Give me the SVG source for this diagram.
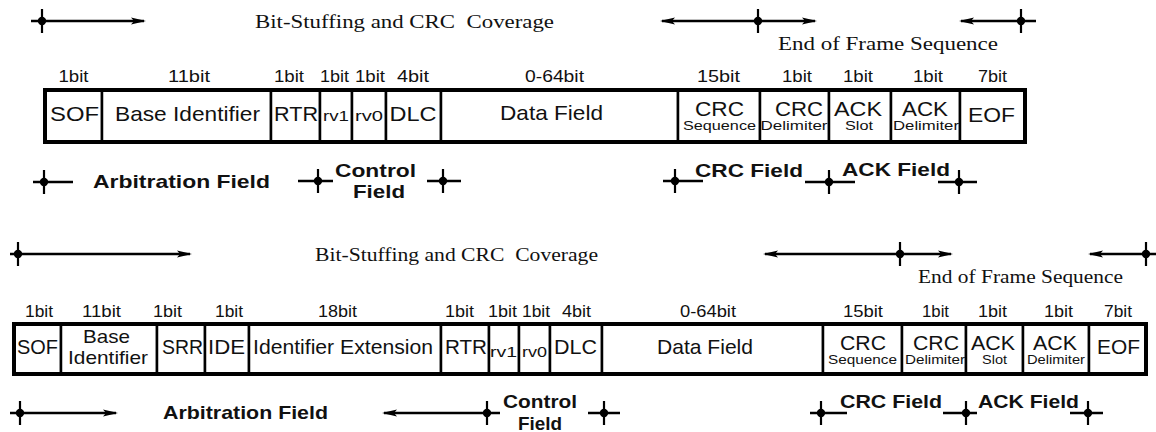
<svg xmlns="http://www.w3.org/2000/svg" xmlns:xlink="http://www.w3.org/1999/xlink" width="1156" height="432" viewBox="0 0 1156 432">
  <style>
    text { fill: #111; text-anchor: middle; font-family: "Liberation Sans", Arial, sans-serif; }
    .cell { font-size: 21px; }
    .two { font-size: 19px; }
    .small { font-size: 15px; }
    .sub { font-size: 12px; }
    .bit { font-size: 16px; }
    .cov { font-family: "Liberation Serif", "Times New Roman", serif; font-size: 19px; }
    .fld { font-weight: bold; font-size: 19px; }
    .box { fill: #fff; stroke: #000; stroke-width: 2.5; }
    .frame { fill: none; stroke: #000; stroke-width: 4; }
    .ln { stroke: #000; stroke-width: 2.5; fill: none; }
    .arr { marker-end: url(#ah); }
    .arl { marker-start: url(#ah); }
    .arb { marker-start: url(#ah); marker-end: url(#ah); }
  </style>
  <defs>
    <marker id="ah" viewBox="-14 -4 17 8" refX="0" refY="0" markerWidth="17" markerHeight="8" markerUnits="userSpaceOnUse" orient="auto-start-reverse">
      <path d="M2,0 L-13,-3.6 L-10,0 L-13,3.6 Z" fill="#000"/>
    </marker>
    <g id="tick">
      <line x1="0" y1="-12" x2="0" y2="12" stroke="#000" stroke-width="2.2"/>
      <circle r="4.2" fill="#000"/>
    </g>
  </defs>
  <rect width="1156" height="432" fill="#fff"/>

  <!-- ===== Standard frame (11-bit identifier) ===== -->
  <g id="std-sof"><rect class="box" x="45" y="90" width="57" height="52"/><text class="bit" x="73.5" y="82" textLength="30" lengthAdjust="spacingAndGlyphs">1bit</text><text class="cell" x="74.5" y="121" textLength="49" lengthAdjust="spacingAndGlyphs">SOF</text></g>
  <g id="std-base-id"><rect class="box" x="102" y="90" width="169" height="52"/><text class="bit" x="189" y="82" textLength="42" lengthAdjust="spacingAndGlyphs">11bit</text><text class="cell" x="187.5" y="121" textLength="145" lengthAdjust="spacingAndGlyphs">Base Identifier</text></g>
  <g id="std-rtr"><rect class="box" x="271" y="90" width="49" height="52"/><text class="bit" x="289" y="82" textLength="30" lengthAdjust="spacingAndGlyphs">1bit</text><text class="cell" x="296" y="121" textLength="44" lengthAdjust="spacingAndGlyphs">RTR</text></g>
  <g id="std-rv1"><rect class="box" x="320" y="90" width="32" height="52"/><text class="bit" x="334.5" y="82" textLength="29" lengthAdjust="spacingAndGlyphs">1bit</text><text class="small" x="336" y="121" textLength="26" lengthAdjust="spacingAndGlyphs">rv1</text></g>
  <g id="std-rv0"><rect class="box" x="352" y="90" width="34" height="52"/><text class="bit" x="370" y="82" textLength="30" lengthAdjust="spacingAndGlyphs">1bit</text><text class="small" x="369" y="121" textLength="28" lengthAdjust="spacingAndGlyphs">rv0</text></g>
  <g id="std-dlc"><rect class="box" x="386" y="90" width="55" height="52"/><text class="bit" x="413" y="82" textLength="32" lengthAdjust="spacingAndGlyphs">4bit</text><text class="cell" x="413" y="121" textLength="47" lengthAdjust="spacingAndGlyphs">DLC</text></g>
  <g id="std-data"><rect class="box" x="441" y="90" width="237" height="52"/><text class="bit" x="554.5" y="82" textLength="59" lengthAdjust="spacingAndGlyphs">0-64bit</text><text class="cell" x="551.5" y="120" textLength="103" lengthAdjust="spacingAndGlyphs">Data Field</text></g>
  <g id="std-crc-seq"><rect class="box" x="678" y="90" width="82" height="52"/><text class="bit" x="718.5" y="82" textLength="43" lengthAdjust="spacingAndGlyphs">15bit</text><text class="cell" x="719.5" y="116" textLength="49" lengthAdjust="spacingAndGlyphs">CRC</text><text class="sub" x="719.5" y="130" textLength="73" lengthAdjust="spacingAndGlyphs">Sequence</text></g>
  <g id="std-crc-del"><rect class="box" x="760" y="90" width="69" height="52"/><text class="bit" x="797" y="82" textLength="30" lengthAdjust="spacingAndGlyphs">1bit</text><text class="cell" x="799" y="116" textLength="48" lengthAdjust="spacingAndGlyphs">CRC</text><text class="sub" x="794" y="130" textLength="67" lengthAdjust="spacingAndGlyphs">Delimiter</text></g>
  <g id="std-ack-slot"><rect class="box" x="829" y="90" width="62" height="52"/><text class="bit" x="858" y="82" textLength="30" lengthAdjust="spacingAndGlyphs">1bit</text><text class="cell" x="858" y="116" textLength="48" lengthAdjust="spacingAndGlyphs">ACK</text><text class="sub" x="859" y="130" textLength="28" lengthAdjust="spacingAndGlyphs">Slot</text></g>
  <g id="std-ack-del"><rect class="box" x="891" y="90" width="69" height="52"/><text class="bit" x="928" y="82" textLength="30" lengthAdjust="spacingAndGlyphs">1bit</text><text class="cell" x="925" y="116" textLength="46" lengthAdjust="spacingAndGlyphs">ACK</text><text class="sub" x="926" y="130" textLength="66" lengthAdjust="spacingAndGlyphs">Delimiter</text></g>
  <g id="std-eof"><rect class="box" x="960" y="90" width="65" height="52"/><text class="bit" x="992.5" y="82" textLength="29" lengthAdjust="spacingAndGlyphs">7bit</text><text class="cell" x="991.5" y="122" textLength="47" lengthAdjust="spacingAndGlyphs">EOF</text></g>
  <rect class="frame" x="45" y="90" width="980" height="52"/>

  <g id="std-labels">
    <text class="cov" x="404.5" y="28" textLength="299" lengthAdjust="spacingAndGlyphs" xml:space="preserve">Bit-Stuffing and CRC  Coverage</text>
    <text class="cov" x="888" y="50" textLength="220" lengthAdjust="spacingAndGlyphs">End of Frame Sequence</text>
    <text class="fld" x="181.5" y="188" textLength="177" lengthAdjust="spacingAndGlyphs">Arbitration Field</text>
    <text class="fld" x="375.5" y="177" textLength="81" lengthAdjust="spacingAndGlyphs">Control</text>
    <text class="fld" x="379" y="198" textLength="52" lengthAdjust="spacingAndGlyphs">Field</text>
    <text class="fld" x="749" y="177" textLength="108" lengthAdjust="spacingAndGlyphs">CRC Field</text>
    <text class="fld" x="896" y="176" textLength="108" lengthAdjust="spacingAndGlyphs">ACK Field</text>
  </g>

  <!-- ===== Extended frame (29-bit identifier) ===== -->
  <g id="ext-sof"><rect class="box" x="14" y="324" width="47" height="50"/><text class="bit" x="39" y="317" textLength="28" lengthAdjust="spacingAndGlyphs">1bit</text><text class="cell" x="37.5" y="354" textLength="41" lengthAdjust="spacingAndGlyphs">SOF</text></g>
  <g id="ext-base-id"><rect class="box" x="61" y="324" width="96" height="50"/><text class="bit" x="101.5" y="317" textLength="39" lengthAdjust="spacingAndGlyphs">11bit</text><text class="two" x="106.5" y="343" textLength="47" lengthAdjust="spacingAndGlyphs">Base</text><text class="two" x="108" y="364" textLength="80" lengthAdjust="spacingAndGlyphs">Identifier</text></g>
  <g id="ext-srr"><rect class="box" x="157" y="324" width="48" height="50"/><text class="bit" x="167.5" y="317" textLength="29" lengthAdjust="spacingAndGlyphs">1bit</text><text class="cell" x="182.5" y="354" textLength="41" lengthAdjust="spacingAndGlyphs">SRR</text></g>
  <g id="ext-ide"><rect class="box" x="205" y="324" width="44" height="50"/><text class="bit" x="229" y="317" textLength="28" lengthAdjust="spacingAndGlyphs">1bit</text><text class="cell" x="226.5" y="354" textLength="37" lengthAdjust="spacingAndGlyphs">IDE</text></g>
  <g id="ext-id-ext"><rect class="box" x="249" y="324" width="192" height="50"/><text class="bit" x="337.5" y="317" textLength="39" lengthAdjust="spacingAndGlyphs">18bit</text><text class="cell" x="343" y="354" textLength="180" lengthAdjust="spacingAndGlyphs">Identifier Extension</text></g>
  <g id="ext-rtr"><rect class="box" x="441" y="324" width="48" height="50"/><text class="bit" x="459.5" y="317" textLength="29" lengthAdjust="spacingAndGlyphs">1bit</text><text class="cell" x="466" y="354" textLength="42" lengthAdjust="spacingAndGlyphs">RTR</text></g>
  <g id="ext-rv1"><rect class="box" x="489" y="324" width="30" height="50"/><text class="bit" x="502.5" y="317" textLength="29" lengthAdjust="spacingAndGlyphs">1bit</text><text class="small" x="503.5" y="357" textLength="27" lengthAdjust="spacingAndGlyphs">rv1</text></g>
  <g id="ext-rv0"><rect class="box" x="519" y="324" width="31" height="50"/><text class="bit" x="536" y="317" textLength="28" lengthAdjust="spacingAndGlyphs">1bit</text><text class="small" x="534.5" y="357" textLength="25" lengthAdjust="spacingAndGlyphs">rv0</text></g>
  <g id="ext-dlc"><rect class="box" x="550" y="324" width="52" height="50"/><text class="bit" x="576.5" y="317" textLength="29" lengthAdjust="spacingAndGlyphs">4bit</text><text class="cell" x="575.5" y="354" textLength="43" lengthAdjust="spacingAndGlyphs">DLC</text></g>
  <g id="ext-data"><rect class="box" x="602" y="324" width="221" height="50"/><text class="bit" x="708" y="317" textLength="56" lengthAdjust="spacingAndGlyphs">0-64bit</text><text class="cell" x="705" y="354" textLength="96" lengthAdjust="spacingAndGlyphs">Data Field</text></g>
  <g id="ext-crc-seq"><rect class="box" x="823" y="324" width="79" height="50"/><text class="bit" x="863" y="317" textLength="40" lengthAdjust="spacingAndGlyphs">15bit</text><text class="cell" x="863" y="350" textLength="46" lengthAdjust="spacingAndGlyphs">CRC</text><text class="sub" x="862.5" y="364" textLength="69" lengthAdjust="spacingAndGlyphs">Sequence</text></g>
  <g id="ext-crc-del"><rect class="box" x="902" y="324" width="64" height="50"/><text class="bit" x="935.5" y="317" textLength="27" lengthAdjust="spacingAndGlyphs">1bit</text><text class="cell" x="936" y="350" textLength="46" lengthAdjust="spacingAndGlyphs">CRC</text><text class="sub" x="935" y="364" textLength="60" lengthAdjust="spacingAndGlyphs">Delimiter</text></g>
  <g id="ext-ack-slot"><rect class="box" x="966" y="324" width="57" height="50"/><text class="bit" x="992.5" y="317" textLength="29" lengthAdjust="spacingAndGlyphs">1bit</text><text class="cell" x="993" y="350" textLength="44" lengthAdjust="spacingAndGlyphs">ACK</text><text class="sub" x="994.5" y="364" textLength="25" lengthAdjust="spacingAndGlyphs">Slot</text></g>
  <g id="ext-ack-del"><rect class="box" x="1023" y="324" width="66" height="50"/><text class="bit" x="1058.5" y="317" textLength="29" lengthAdjust="spacingAndGlyphs">1bit</text><text class="cell" x="1055" y="350" textLength="44" lengthAdjust="spacingAndGlyphs">ACK</text><text class="sub" x="1056" y="364" textLength="58" lengthAdjust="spacingAndGlyphs">Delimiter</text></g>
  <g id="ext-eof"><rect class="box" x="1089" y="324" width="57" height="50"/><text class="bit" x="1118" y="317" textLength="28" lengthAdjust="spacingAndGlyphs">7bit</text><text class="cell" x="1118.5" y="354" textLength="43" lengthAdjust="spacingAndGlyphs">EOF</text></g>
  <rect class="frame" x="14" y="324" width="1132" height="50"/>

  <g id="ext-labels">
    <text class="cov" x="456.5" y="261" textLength="283" lengthAdjust="spacingAndGlyphs" xml:space="preserve">Bit-Stuffing and CRC  Coverage</text>
    <text class="cov" x="1020.5" y="283" textLength="205" lengthAdjust="spacingAndGlyphs">End of Frame Sequence</text>
    <text class="fld" x="245.5" y="419" textLength="165" lengthAdjust="spacingAndGlyphs">Arbitration Field</text>
    <text class="fld" x="540" y="408" textLength="74" lengthAdjust="spacingAndGlyphs">Control</text>
    <text class="fld" x="540" y="430" textLength="44" lengthAdjust="spacingAndGlyphs">Field</text>
    <text class="fld" x="891" y="408" textLength="102" lengthAdjust="spacingAndGlyphs">CRC Field</text>
    <text class="fld" x="1028.5" y="408" textLength="101" lengthAdjust="spacingAndGlyphs">ACK Field</text>
  </g>

  <!-- span markers: lines, arrowheads and boundary ticks -->
  <g id="connectors">
    <!-- standard frame: coverage spans -->
    <line class="ln arr" x1="31" y1="21" x2="144" y2="21"/>
    <use xlink:href="#tick" x="42" y="21"/>
    <line class="ln arb" x1="662" y1="21" x2="815" y2="21"/>
    <use xlink:href="#tick" x="758" y="21"/>
    <line class="ln arl" x1="961" y1="21" x2="1036" y2="21"/>
    <use xlink:href="#tick" x="1021" y="21"/>
    <!-- standard frame: field boundaries -->
    <line class="ln" x1="33" y1="182" x2="73" y2="182"/>
    <use xlink:href="#tick" x="44" y="182"/>
    <line class="ln" x1="298" y1="181" x2="333" y2="181"/>
    <use xlink:href="#tick" x="318" y="181"/>
    <line class="ln" x1="427" y1="181" x2="461" y2="181"/>
    <use xlink:href="#tick" x="443" y="181"/>
    <line class="ln" x1="663" y1="181" x2="703" y2="181"/>
    <use xlink:href="#tick" x="675" y="181"/>
    <line class="ln" x1="805" y1="182" x2="855" y2="182"/>
    <use xlink:href="#tick" x="829" y="182"/>
    <line class="ln" x1="938" y1="182" x2="977" y2="182"/>
    <use xlink:href="#tick" x="959" y="182"/>

    <!-- extended frame: coverage spans -->
    <line class="ln arr" x1="10" y1="254" x2="190" y2="254"/>
    <use xlink:href="#tick" x="18" y="254"/>
    <line class="ln arb" x1="765" y1="254" x2="951" y2="254"/>
    <use xlink:href="#tick" x="900" y="254"/>
    <line class="ln arl" x1="1090" y1="254" x2="1156" y2="254"/>
    <use xlink:href="#tick" x="1146" y="254"/>
    <!-- extended frame: field boundaries -->
    <line class="ln arr" x1="10" y1="413" x2="116" y2="413"/>
    <use xlink:href="#tick" x="20" y="413"/>
    <line class="ln arl" x1="384" y1="413" x2="500" y2="413"/>
    <use xlink:href="#tick" x="487" y="413"/>
    <line class="ln" x1="588" y1="413" x2="620" y2="413"/>
    <use xlink:href="#tick" x="604" y="413"/>
    <line class="ln" x1="810" y1="413" x2="847" y2="413"/>
    <use xlink:href="#tick" x="821" y="413"/>
    <line class="ln" x1="943" y1="413" x2="977" y2="413"/>
    <use xlink:href="#tick" x="966" y="413"/>
    <line class="ln" x1="1070" y1="413" x2="1103" y2="413"/>
    <use xlink:href="#tick" x="1088" y="413"/>
  </g>
</svg>
